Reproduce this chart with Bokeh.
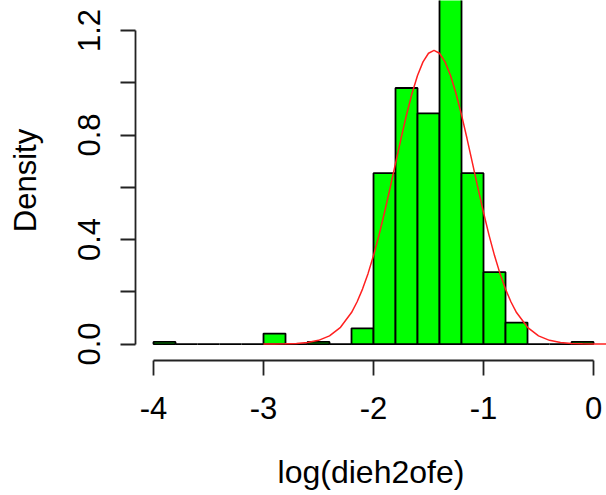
from bokeh.plotting import figure
from bokeh.models import Range1d, FixedTicker
from bokeh.embed import file_html
from bokeh.resources import INLINE

# ---- data ----
bin_left = [-4.0, -3.8, -3.6, -3.4, -3.2, -3.0, -2.8, -2.6, -2.4, -2.2,
            -2.0, -1.8, -1.6, -1.4, -1.2, -1.0, -0.8, -0.6, -0.4, -0.2]
bin_right = [-3.8, -3.6, -3.4, -3.2, -3.0, -2.8, -2.6, -2.4, -2.2, -2.0,
             -1.8, -1.6, -1.4, -1.2, -1.0, -0.8, -0.6, -0.4, -0.2, 0.0]
density = [0.008, 0.0, 0.0, 0.0, 0.0, 0.04, 0.0, 0.008, 0.0, 0.06,
           0.654, 0.98, 0.883, 1.35, 0.654, 0.275, 0.082, 0.0, 0.0, 0.008]

curve_x = [-3.0, -2.9, -2.8, -2.7, -2.6, -2.5, -2.4, -2.3, -2.2, -2.15,
           -2.1, -2.05, -2.0, -1.95, -1.9, -1.85, -1.8, -1.75, -1.7, -1.65,
           -1.6, -1.55, -1.5, -1.45, -1.4, -1.35, -1.3, -1.25, -1.2, -1.15,
           -1.1, -1.05, -1.0, -0.95, -0.9, -0.85, -0.8, -0.75, -0.7, -0.6,
           -0.5, -0.4, -0.3, -0.2, -0.1, 0.0, 0.12]
curve_y = [0.0001, 0.0003, 0.0008, 0.0023, 0.0059, 0.0142, 0.0314, 0.064, 0.1206, 0.161,
           0.2103, 0.2695, 0.3386, 0.417, 0.5034, 0.5958, 0.6914, 0.7866, 0.8772, 0.9591,
           1.028, 1.080, 1.113, 1.124, 1.113, 1.080, 1.028, 0.9591, 0.8772, 0.7866,
           0.6914, 0.5958, 0.5034, 0.417, 0.3386, 0.2695, 0.2103, 0.161, 0.1206, 0.064,
           0.0314, 0.0142, 0.0059, 0.0023, 0.0008, 0.0003, 0.0001]

x_ticks = [-4, -3, -2, -1, 0]
x_tick_labels = {-4: "-4", -3: "-3", -2: "-2", -1: "-1", 0: "0"}
y_ticks = [0.0, 0.2, 0.4, 0.6, 0.8, 1.0, 1.2]
y_tick_labels = {0.0: "0.0", 0.2: "", 0.4: "0.4", 0.6: "", 0.8: "0.8", 1.0: "", 1.2: "1.2"}

FONT = "Liberation Sans"

p = figure(width=606, height=495, output_backend="svg", toolbar_location=None,
           x_range=Range1d(-4.1636, 0.118), y_range=Range1d(-0.063, 1.315),
           min_border_left=135, min_border_bottom=135, min_border_top=0,
           min_border_right=0)

p.quad(left=bin_left, right=bin_right, bottom=0, top=density,
       fill_color="#00FF00", line_color="black", line_width=1.8)
p.line(curve_x, curve_y, line_color="#FF2020", line_width=1.5)

p.grid.visible = False
p.outline_line_color = None
p.background_fill_color = "white"
p.border_fill_color = "white"

for ax in (p.xaxis[0], p.yaxis[0]):
    ax.axis_line_color = "#222222"
    ax.axis_line_width = 1.8
    ax.major_tick_line_color = "#222222"
    ax.major_tick_line_width = 1.8
    ax.major_tick_out = 15
    ax.major_tick_in = 0
    ax.minor_tick_line_color = None
    ax.major_label_text_font = FONT
    ax.major_label_text_font_size = "31px"
    ax.major_label_text_color = "black"
    ax.axis_label_text_font = FONT
    ax.axis_label_text_font_size = "32px"
    ax.axis_label_text_font_style = "normal"
    ax.axis_label_text_color = "black"

p.xaxis.bounds = (-4, 0)
p.xaxis.ticker = FixedTicker(ticks=x_ticks)
p.xaxis.major_label_overrides = x_tick_labels
p.xaxis.axis_label = "log(dieh2ofe)"
p.xaxis.major_label_standoff = 21
p.xaxis.axis_label_standoff = 32

p.yaxis.bounds = (0, 1.2)
p.yaxis.ticker = FixedTicker(ticks=y_ticks)
p.yaxis.major_label_overrides = y_tick_labels
p.yaxis.major_label_orientation = "vertical"
p.yaxis.axis_label = "Density"
p.yaxis.axis_label_text_font_size = "31px"
p.yaxis.major_label_standoff = 20
p.yaxis.axis_label_standoff = 33

open("out.html", "w").write(file_html(p, INLINE))
